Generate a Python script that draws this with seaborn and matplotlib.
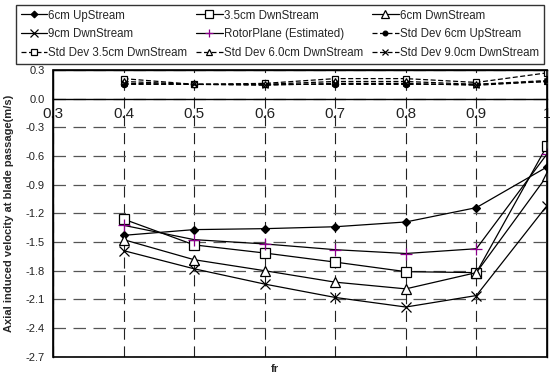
import matplotlib
matplotlib.use("Agg")
import matplotlib.pyplot as plt
import seaborn as sns
import pandas as pd
from matplotlib.patches import Rectangle

sns.set_theme(style="white")
plt.rcParams['font.family'] = ['Liberation Sans', 'DejaVu Sans']

fr = [0.4, 0.5, 0.6, 0.7, 0.8, 0.9, 1.0]
up6 = [-1.43, -1.37, -1.36, -1.34, -1.29, -1.14, -0.715]
dn35 = [-1.26, -1.53, -1.615, -1.71, -1.81, -1.82, -0.495]
dn6 = [-1.475, -1.685, -1.80, -1.92, -1.99, -1.82, -0.81]
dn9 = [-1.59, -1.78, -1.94, -2.08, -2.18, -2.06, -1.12]
rotor = [-1.325, -1.475, -1.52, -1.58, -1.62, -1.57, -0.58]
sd_up6 = [0.15, 0.15, 0.15, 0.15, 0.15, 0.15, 0.18]
sd_dn35 = [0.21, 0.15, 0.16, 0.21, 0.21, 0.17, 0.27]
sd_dn6 = [0.18, 0.15, 0.15, 0.18, 0.18, 0.15, 0.19]
sd_dn9 = [0.16, 0.15, 0.14, 0.16, 0.16, 0.14, 0.18]

names = ["6cm UpStream", "3.5cm DwnStream", "6cm DwnStream", "9cm DwnStream",
         "RotorPlane (Estimated)", "Std Dev 6cm UpStream", "Std Dev 3.5cm DwnStream",
         "Std Dev 6.0cm DwnStream", "Std Dev 9.0cm DwnStream"]
values = [up6, dn35, dn6, dn9, rotor, sd_up6, sd_dn35, sd_dn6, sd_dn9]

xticks = [0.3, 0.4, 0.5, 0.6, 0.7, 0.8, 0.9, 1.0]
xticklabels = ["0.3", "0.4", "0.5", "0.6", "0.7", "0.8", "0.9", "1"]
yticks = [0.3, 0.0, -0.3, -0.6, -0.9, -1.2, -1.5, -1.8, -2.1, -2.4, -2.7]
yticklabels = ["0.3", "0.0", "-0.3", "-0.6", "-0.9", "-1.2", "-1.5", "-1.8", "-2.1", "-2.4", "-2.7"]

styles = [
    dict(marker='D', ms=4.5, mfc='black', mec='black', ls='-', color='black'),
    dict(marker='s', ms=7, mfc='white', mec='black', ls='-', color='black'),
    dict(marker='^', ms=7, mfc='white', mec='black', ls='-', color='black'),
    dict(marker='x', ms=7, mfc='none', mec='black', ls='-', color='black'),
    dict(marker='+', ms=8, mfc='none', mec='#8B008B', ls='-', color='black'),
    dict(marker='o', ms=4.5, mfc='black', mec='black', ls=(0, (4, 2)), color='black'),
    dict(marker='s', ms=5, mfc='white', mec='black', ls=(0, (4, 2)), color='black'),
    dict(marker='^', ms=5, mfc='white', mec='black', ls=(0, (4, 2)), color='black'),
    dict(marker='x', ms=5, mfc='none', mec='black', ls=(0, (4, 2)), color='black'),
]

fig = plt.figure(figsize=(5.5, 3.77), dpi=100)
ax = fig.add_axes([0.0964, 0.0538, 0.898, 0.7605])

handles = []
for name, vals, st in zip(names, values, styles):
    df = pd.DataFrame({"fr": fr, "v": vals})
    sns.lineplot(data=df, x="fr", y="v", ax=ax, color=st['color'], linestyle=st['ls'],
                 marker=st['marker'], markersize=st['ms'], markerfacecolor=st['mfc'],
                 markeredgecolor=st['mec'], markeredgewidth=0.9, linewidth=0.9,
                 label=name, legend=False, zorder=5)
    handles.append(ax.lines[-1])

ax.set_xlim(0.3, 1.0)
ax.set_ylim(-2.7, 0.3)
ax.set_xticks(xticks)
ax.set_xticklabels(xticklabels, fontsize=8)
ax.set_yticks(yticks)
ax.set_yticklabels(yticklabels, fontsize=8)

# grid
ax.grid(True, axis='y', color='#555555', linestyle=(0, (10, 6)), linewidth=0.9)
ax.grid(True, axis='x', color='#222222', linestyle=(0, (10, 6)), linewidth=0.8)

# x axis at y=0
for s in ['top', 'right', 'left']:
    ax.spines[s].set_color('black')
    ax.spines[s].set_linewidth(1.0)
ax.spines['bottom'].set_position(('data', 0))
ax.spines['bottom'].set_color('black')
ax.spines['bottom'].set_linewidth(1.0)
ax.add_patch(Rectangle((0, 0), 1, 1, transform=ax.transAxes, fill=False,
                       edgecolor='black', linewidth=1.2, zorder=6, clip_on=False))
ax.tick_params(axis='x', direction='inout', length=8, width=0.8, pad=2, colors='black',
               labelcolor='#222222')
ax.tick_params(axis='y', direction='out', length=4, width=0.8, pad=2, colors='black',
               labelcolor='#222222')

ax.set_xlabel("")
ax.set_ylabel("Axial induced velocity at blade passage(m/s)", fontsize=8,
              fontweight='bold', labelpad=4)
ax.yaxis.set_label_coords(-0.08, 0.5)
fig.text(0.5, 0.022, "fr", fontsize=8, fontweight='bold', ha='center', va='center')

order = [0, 3, 6, 1, 4, 7, 2, 5, 8]
leg = fig.legend([handles[i] for i in order], [names[i] for i in order],
                 loc='upper left', bbox_to_anchor=(0.029, 0.987),
                 ncol=3, fontsize=8.3, frameon=True, fancybox=False,
                 edgecolor='black', handlelength=2.3, handletextpad=0.12,
                 columnspacing=0.75, markerscale=0.75,
                 borderaxespad=0, labelspacing=0.6, borderpad=0.4)
leg.get_frame().set_linewidth(1.0)

fig.savefig("out.png", dpi=100)
